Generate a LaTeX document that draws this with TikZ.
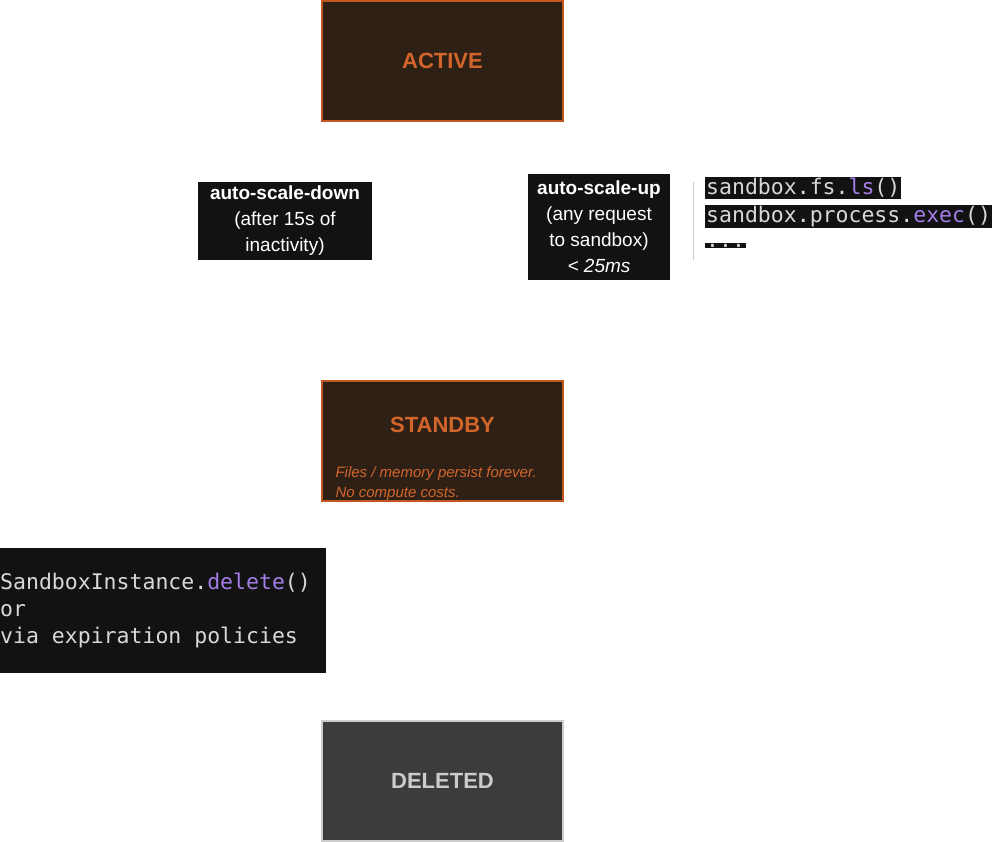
\documentclass[tikz,border=0pt]{standalone}
\usepackage{fontspec}
\setmainfont{Liberation Sans}
\newfontfamily\monof{DejaVu Sans Mono}
\definecolor{stfill}{HTML}{2F2016}
\definecolor{stline}{HTML}{C0581F}
\definecolor{sttext}{HTML}{D2652A}
\definecolor{lbl}{HTML}{121212}
\definecolor{purp}{HTML}{A47DE6}
\definecolor{codetx}{HTML}{D8D8D8}
\definecolor{delfill}{HTML}{3C3C3C}
\definecolor{delline}{HTML}{CCCCCC}
\begin{document}
\begin{tikzpicture}[x=1pt,y=-1pt,
  state/.style={draw=stline,line width=1.5pt,fill=stfill,minimum width=241pt,minimum height=120pt,inner sep=0pt,text=sttext,font=\fontsize{22}{26}\selectfont\bfseries},
  lab/.style={fill=lbl,text=white,align=center,inner sep=0pt,font=\fontsize{19}{26}\selectfont},
  code/.style={fill=lbl,text=codetx,inner sep=1pt,anchor=west,font=\monof\fontsize{21.5}{25}\selectfont}]
\useasboundingbox (0,0) rectangle (1008,842);
\node[state] (active) at (442.5,61) {ACTIVE};
\node[state] (standby) at (442.5,441) {};
\node[text=sttext,font=\fontsize{22}{26}\selectfont\bfseries] (stlab) at (442.5,425) {STANDBY};
\node[text=sttext,anchor=west,align=left,font=\fontsize{15}{20}\selectfont\itshape] (stnote) at (332,484) {Files / memory persist forever.\\No compute costs.};
\node[state,draw=delline,fill=delfill,text=delline] (deleted) at (442.5,781) {DELETED};
\node[lab,minimum width=174pt,minimum height=78pt] (down) at (285,221) {\textbf{auto-scale-down}\\(after 15s of\\inactivity)};
\node[lab,minimum width=142pt,minimum height=106pt] (up) at (599,227) {\textbf{auto-scale-up}\\(any request\\to sandbox)\\\textit{< 25ms}};
\coordinate (vl1) at (693,182);
\coordinate (vl2) at (693,260);
\draw[draw=delline,line width=1pt] (vl1) -- (vl2);
\node[code] (c1) at (705,188) {sandbox.fs.\textcolor{purp}{ls}()};
\node[code] (c2) at (705,216.5) {sandbox.process.\textcolor{purp}{exec}()};
\node[code] (c3) at (705,245.5) {...};
\node[fill=lbl,minimum width=326pt,minimum height=125pt,inner sep=0pt] (delbox) at (163,610.5) {};
\node[text=codetx,anchor=west,align=left,inner sep=0pt,font=\monof\fontsize{21.5}{27}\selectfont] (deltext) at (0,611) {SandboxInstance.\textcolor{purp}{delete}()\\or\\via expiration policies};
\end{tikzpicture}
\end{document}
